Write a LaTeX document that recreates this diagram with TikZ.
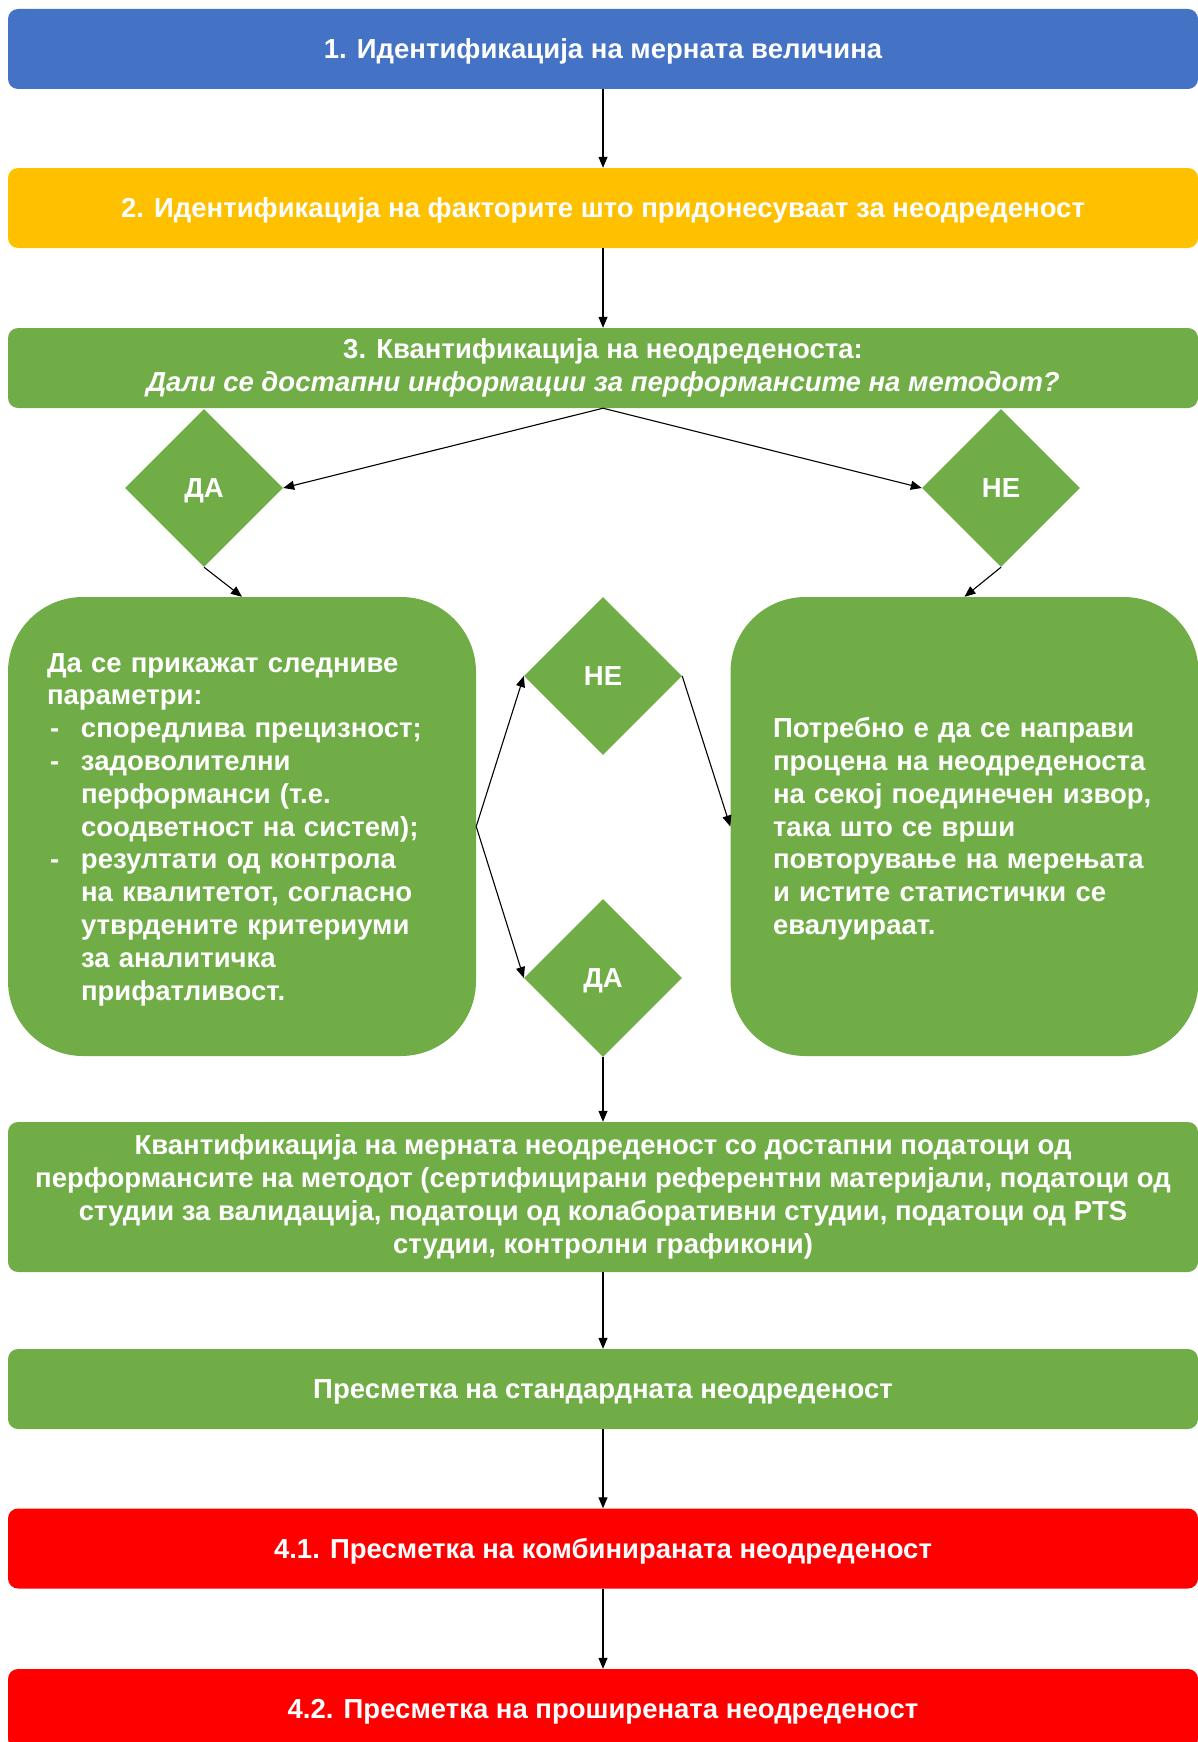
\documentclass[tikz,border=0pt]{standalone}
\usepackage{fontspec}
\setmainfont{Liberation Sans}
\usetikzlibrary{shapes.geometric,arrows.meta}

\definecolor{boxblue}{HTML}{4472C4}
\definecolor{boxgold}{HTML}{FFC000}
\definecolor{boxgreen}{HTML}{70AD47}
\definecolor{boxred}{HTML}{FF0000}

\newcommand{\itemdash}{\makebox[34pt][l]{\hspace{3pt}-}}
\newcommand{\itemgap}{\hspace*{34pt}}
\newcommand{\linestrut}{\rule[-0.212em]{0pt}{1.117em}}

\begin{document}
\begin{tikzpicture}[x=1pt,y=-1pt,
  font=\fontsize{27.5}{32.8}\selectfont\bfseries,
  every node/.append style={execute at begin node=\linestrut,
    execute at end node=\linestrut},
  bar/.style={rectangle,rounded corners=10pt,minimum width=1190pt,
    minimum height=80pt,inner sep=0pt,text=white,align=center},
  bigbox/.style={rectangle,rounded corners=75pt,fill=boxgreen,
    minimum width=468pt,minimum height=459pt,inner ysep=0pt,
    text=white,align=left},
  choice/.style={diamond,fill=boxgreen,minimum size=158pt,inner sep=0pt,
    text=white},
  link/.style={-{Triangle[length=11pt,width=9pt]},line width=1.1pt}]

\useasboundingbox (0,0) rectangle (1198,1742);

\node[bar,fill=boxblue] (step1) at (603,49) {1. Идентификација на мерната величина};
\node[bar,fill=boxgold] (step2) at (603,208) {2. Идентификација на факторите што придонесуваат за неодреденост};
\node[bar,fill=boxgreen] (step3) at (603,368) {3. Квантификација на неодреденоста:\\
  \itshape Дали се достапни информации за перформансите на методот?};

\node[choice] (da1) at (204,488) {ДА};
\node[choice] (ne1) at (1001,488) {НЕ};

\node[bigbox,text width=390pt,inner xsep=39pt] (lbox) at (242,826.5)
  {Да се прикажат следниве\\
   параметри:\\
   \itemdash споредлива прецизност;\\
   \itemdash задоволителни\\
   \itemgap перформанси (т.е.\\
   \itemgap соодветност на систем);\\
   \itemdash резултати од контрола\\
   \itemgap на квалитетот, согласно\\
   \itemgap утврдените критериуми\\
   \itemgap за аналитичка\\
   \itemgap прифатливост.};
\node[bigbox,text width=383pt,inner xsep=42pt] (rbox) at (964.5,826.5)
  {Потребно е да се направи\\
   процена на неодреденоста\\
   на секој поединечен извор,\\
   така што се врши\\
   повторување на мерењата\\
   и истите статистички се\\
   евалуираат.};

\node[choice] (ne2) at (603,676) {НЕ};
\node[choice] (da2) at (603,978) {ДА};

\node[bar,fill=boxgreen,minimum height=150pt] (step5) at (603,1197)
  {Квантификација на мерната неодреденост со достапни податоци од\\
   перформансите на методот (сертифицирани референтни материјали, податоци од\\
   студии за валидација, податоци од колаборативни студии, податоци од PTS\\
   студии, контролни графикони)};
\node[bar,fill=boxgreen] (step6) at (603,1389) {Пресметка на стандардната неодреденост};
\node[bar,fill=boxred] (step41) at (603,1548.5) {4.1. Пресметка на комбинираната неодреденост};
\node[bar,fill=boxred] (step42) at (603,1709) {4.2. Пресметка на проширената неодреденост};

\draw[link] (step1) -- (step2);
\draw[link] (step2) -- (step3);
\draw[link] (step3.south) -- (da1.east);
\draw[link] (step3.south) -- (ne1.west);
\draw[link] (da1.south) -- (lbox.north);
\draw[link] (ne1.south) -- (rbox.north);
\draw[link] (lbox.east) -- (ne2.west);
\draw[link] (lbox.east) -- (da2.west);
\draw[link] (ne2.east) -- (rbox.west);
\draw[link] (da2) -- (step5);
\draw[link] (step5) -- (step6);
\draw[link] (step6) -- (step41);
\draw[link] (step41) -- (step42);
\end{tikzpicture}
\end{document}
